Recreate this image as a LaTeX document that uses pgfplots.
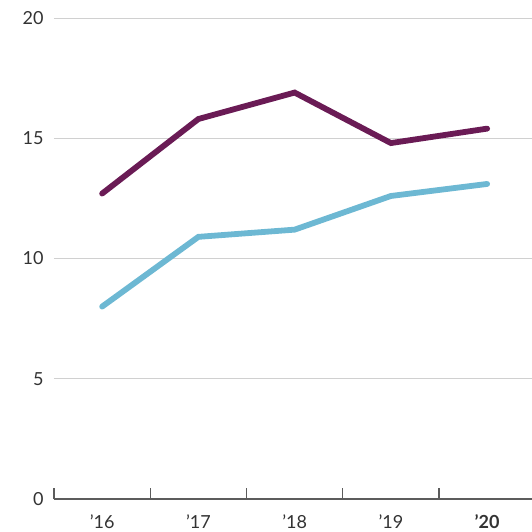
\documentclass[border=0pt]{standalone}
\usepackage{pgfplots}
\pgfplotsset{compat=1.18}
\usepackage{fontspec}
\setmainfont{Lato}
\definecolor{plum}{HTML}{6A1B55}
\definecolor{sky}{HTML}{6DB8D3}
\definecolor{gridgray}{HTML}{D0D0D0}
\definecolor{txt}{HTML}{333333}

\begin{document}
\begin{tikzpicture}
\useasboundingbox (-27pt,-16.5pt) rectangle (239pt,249.5pt);
\begin{axis}[
  at={(0,0)}, anchor=south west,
  scale only axis, width=239pt, height=240.5pt,
  xmin=-0.5, xmax=4.466, ymin=0, ymax=20,
  ytick={0,5,10,15,20},
  xtick={0,1,2,3,4},
  xticklabels={'16,'17,'18,'19,\textbf{'20}},
  extra x ticks={-0.5,0.5,1.5,2.5,3.5},
  extra x tick labels={},
  extra x tick style={major tick length=5.5pt, tick style={draw=txt!80, line width=0.6pt}, tick align=inside},
  major tick length=0pt,
  axis y line*=left,
  y axis line style={draw=none},
  axis x line*=bottom,
  x axis line style={draw=txt!80, line width=0.6pt, -},
  ymajorgrids, grid style={gridgray, line width=0.5pt},
  every tick label/.append style={font=\fontsize{9}{10}\selectfont, text=txt},
  /pgf/number format/assume math mode=true,
  yticklabel style={anchor=east, inner sep=0pt, xshift=-5pt},
  xticklabel style={anchor=north, inner sep=0pt, yshift=-7.5pt},
  clip=false,
]
\addplot[plum, line width=2.9pt, line cap=round, line join=miter] coordinates {(0,12.7)(1,15.8)(2,16.9)(3,14.8)(4,15.4)};
\addplot[sky, line width=2.9pt, line cap=round, line join=miter] coordinates {(0,8.0)(1,10.9)(2,11.2)(3,12.6)(4,13.1)};
\end{axis}
\end{tikzpicture}
\end{document}
